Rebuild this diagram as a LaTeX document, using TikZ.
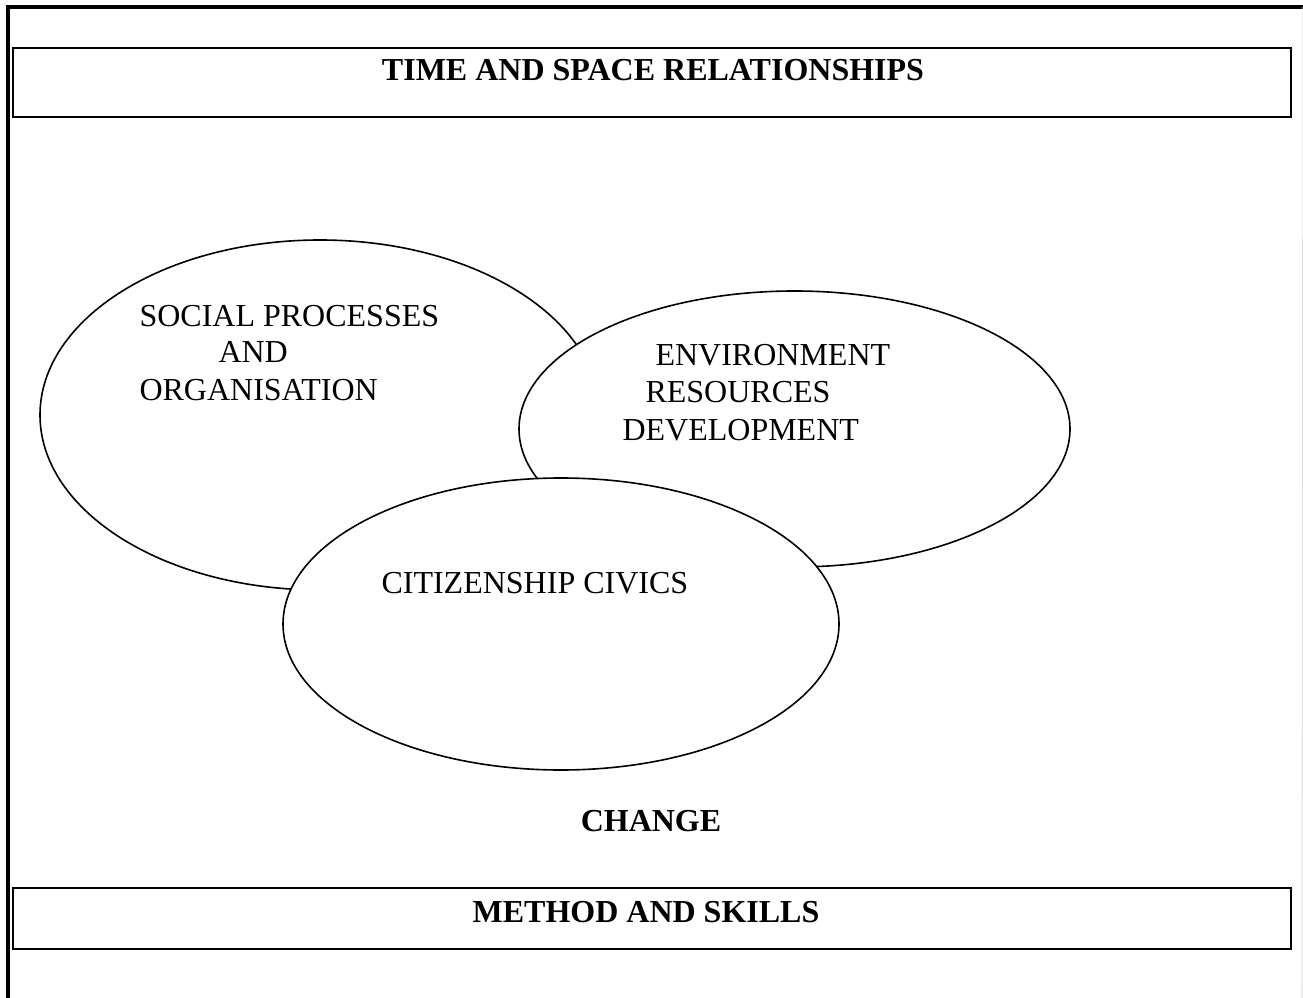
\documentclass[tikz,border=0pt]{standalone}
\usepackage{fontspec}
\setmainfont{Liberation Serif}
\usetikzlibrary{shapes.geometric}
\tikzset{
	>=latex,
	blob/.style = {
			ellipse,
			draw,
			fill       = white,
			line width = 0.6pt,
			inner sep  = 0pt,
		},
	headbox/.style = {
			draw,
			line width     = 1pt,
			minimum width  = 1278*0.375pt,
			inner sep      = 0pt,
		},
	txt/.style = {inner sep=0pt, anchor=base west, font=\fontsize{12}{14}\selectfont},
	headtxt/.style = {inner sep=0pt, anchor=base, font=\fontsize{12}{14}\selectfont\bfseries}
}

\begin{document}
\begin{tikzpicture}[x=0.375pt,y=-0.375pt]
        \useasboundingbox (0,0) rectangle (1303,998);
        % frame
        \coordinate (fbl) at (8,998);
        \coordinate (ftl) at (8,7);
        \coordinate (ftr) at (1303,7);
        \coordinate (fbr) at (1302,998);
        \draw[line width=1.5pt] (fbl) -- (ftl) -- (ftr);
        \draw[black!12, line width=0.4pt] (ftr) -- (fbr);
        % boxes
        \node[headbox, minimum height=69*0.375pt] at (652,82.5) (timebox) {};
        \node[headbox, minimum height=61*0.375pt] at (652,918.5) (skillbox) {};
        \node[headtxt] at (653,81) (time) {TIME AND SPACE RELATIONSHIPS};
        \node[headtxt] at (646,922) (skill) {METHOD AND SKILLS};
        \node[headtxt] at (651,831) (change) {CHANGE};
        % ellipses
        \node[blob, minimum width=560*0.375pt, minimum height=350*0.375pt] at (320,415) (social) {};
        \node[blob, minimum width=551*0.375pt, minimum height=276*0.375pt] at (794.5,429) (environ) {};
        \node[blob, minimum width=556*0.375pt, minimum height=292*0.375pt] at (561,624) (civics) {};
        % texts
        \node[txt] at (139,327) (soc1) {SOCIAL PROCESSES};
        \node[txt] at (218,362) (soc2) {AND};
        \node[txt] at (139,401) (soc3) {ORGANISATION};
        \node[txt] at (655,366) (env1) {ENVIRONMENT};
        \node[txt] at (645,403) (env2) {RESOURCES};
        \node[txt] at (622,441) (env3) {DEVELOPMENT};
        \node[txt] at (381,593) (civ) {CITIZENSHIP CIVICS};
      \end{tikzpicture}
\end{document}
